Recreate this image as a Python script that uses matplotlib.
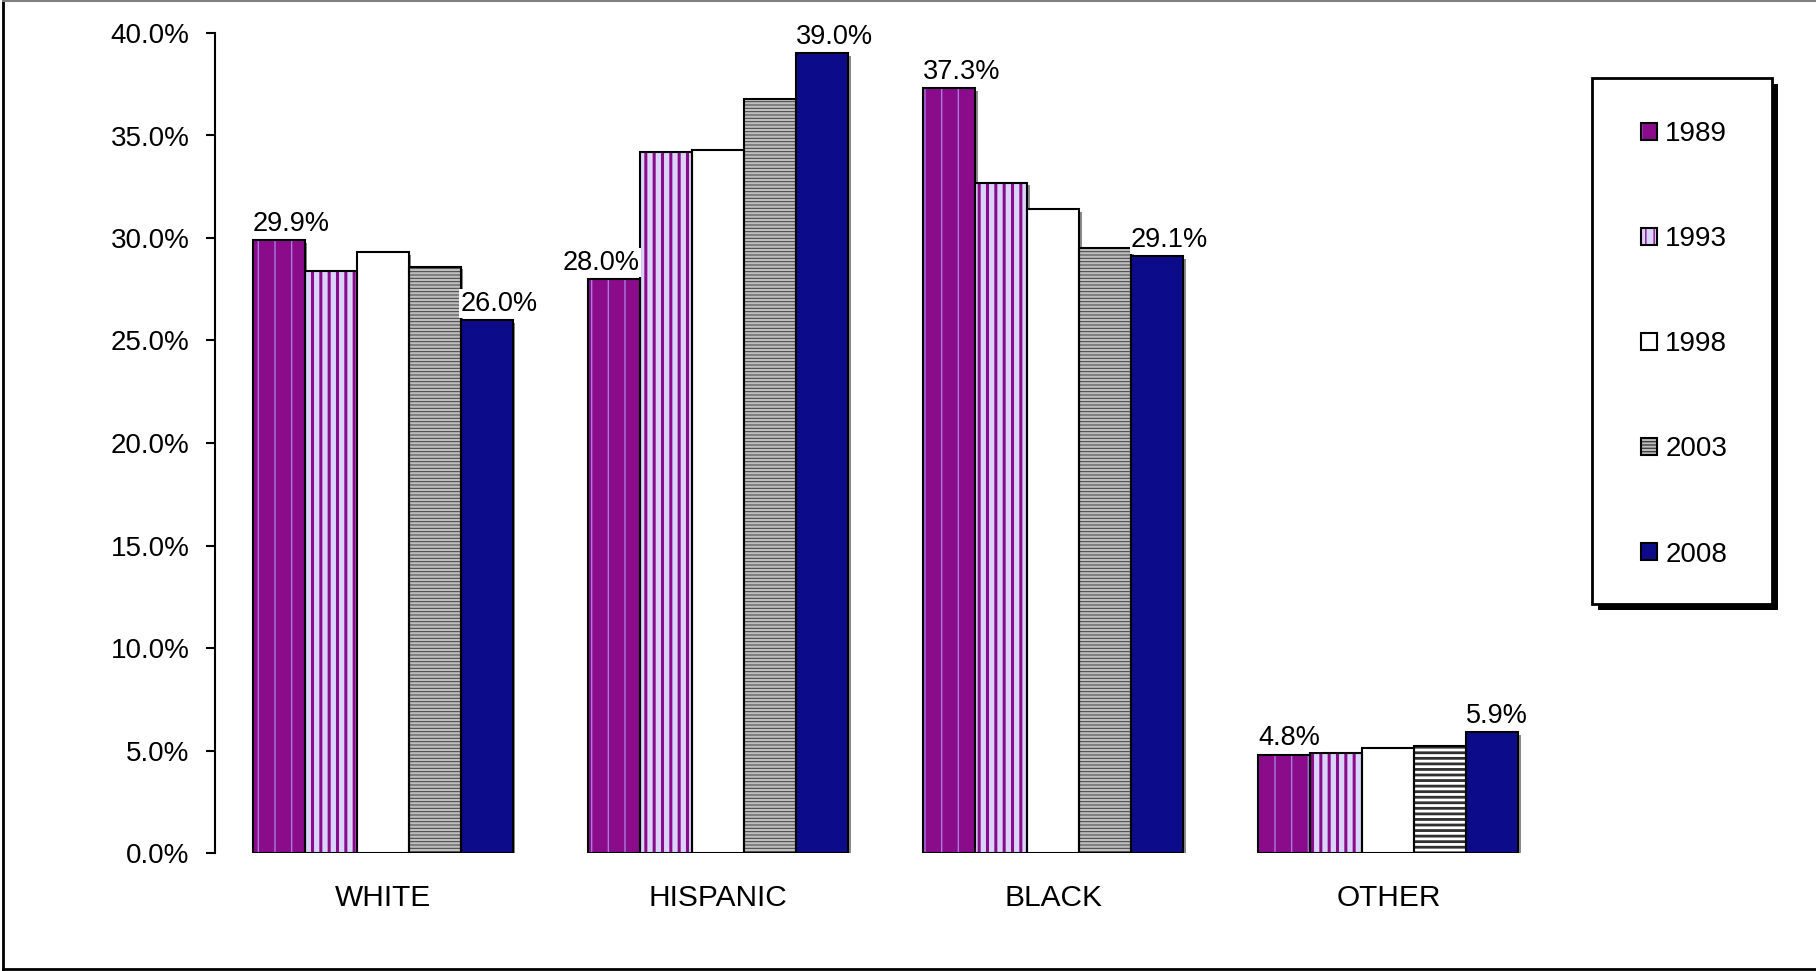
import numpy as np
import matplotlib
matplotlib.use('Agg')
import matplotlib.pyplot as plt
import matplotlib.patheffects as pe
from matplotlib.patches import Rectangle, Patch
from matplotlib.lines import Line2D
from matplotlib.ticker import FuncFormatter, MultipleLocator

plt.rcParams['font.family'] = ['Liberation Sans', 'DejaVu Sans']

# 数据（百分比）
categories = ['WHITE', 'HISPANIC', 'BLACK', 'OTHER']
years = ['1989', '1993', '1998', '2003', '2008']
v1989 = [29.9, 28.0, 37.3, 4.8]
v1993 = [28.4, 34.2, 32.7, 4.9]
v1998 = [29.3, 34.3, 31.4, 5.1]
v2003 = [28.6, 36.8, 29.5, 5.2]
v2008 = [26.0, 39.0, 29.1, 5.9]
series = [v1989, v1993, v1998, v2003, v2008]
labelled = ['1989', '2008']

# 每个系列的填充样式
styles = {
    '1989': dict(face='#8B0C8B', hatch='|', hcolor='#A87CE0', hlw=1.0),
    '1993': dict(face='#DAD4FA', hatch='||', hcolor='#8B0C8B', hlw=2.2),
    '1998': dict(face='white', hatch=None, hcolor='white', hlw=1.0),
    '2003': dict(face='#BEBEBE', hatch='-----', hcolor='#404040', hlw=0.7),
    '2008': dict(face='#0C0C8A', hatch=None, hcolor='#0C0C8A', hlw=1.0),
}
# OTHER 组的 2003 条纹更粗
other_2003 = dict(face='white', hatch='---', hcolor='#303030', hlw=2.0)
# 标签默认左对齐于柱子左边，个别右对齐
label_right = [('1989', 'HISPANIC')]


def set_hlw(p, lw):
    if hasattr(p, 'set_hatch_linewidth'):
        p.set_hatch_linewidth(lw)


fig = plt.figure(figsize=(18.16, 9.71), dpi=100)
ax = fig.add_axes([215 / 1816, 1 - 853 / 971, (1556 - 215) / 1816, (853 - 33) / 971])

x = np.arange(len(categories))
w = 0.155

for i, (yr, vals) in enumerate(zip(years, series)):
    st = styles[yr]
    pos = x + (i - 2) * w
    # 阴影
    ax.bar(pos, vals, w, color='#8A8A8A', linewidth=0, zorder=1.5,
           path_effects=[pe.SimplePatchShadow(offset=(2, -2), shadow_rgbFace='#8A8A8A', alpha=1)])
    # 填充 + 条纹
    fills = ax.bar(pos, vals, w, color=st['face'], edgecolor=st['hcolor'], linewidth=0,
                   hatch=st['hatch'], zorder=2)
    for j, p in enumerate(fills):
        if yr == '2003' and categories[j] == 'OTHER':
            p.set_facecolor(other_2003['face'])
            p.set_edgecolor(other_2003['hcolor'])
            p.set_hatch(other_2003['hatch'])
            set_hlw(p, other_2003['hlw'])
        else:
            set_hlw(p, st['hlw'])
    # 黑色边框
    ax.bar(pos, vals, w, fill=False, edgecolor='black', linewidth=1.5, zorder=3)

    if yr in labelled:
        for xp, v, cat in zip(pos, vals, categories):
            if (yr, cat) in label_right:
                xa, ha = xp + w / 2, 'right'
            else:
                xa, ha = xp - w / 2, 'left'
            ax.annotate(f'{v:.1f}%', (xa, v), xytext=(0, 2.5), textcoords='offset points',
                        ha=ha, va='bottom', fontsize=19.5, zorder=6,
                        bbox=dict(boxstyle='square,pad=0.05', facecolor='white', edgecolor='none'))

ax.set_xlim(-0.5, 3.5)
ax.set_ylim(0, 40)
ax.yaxis.set_major_locator(MultipleLocator(5))
ax.yaxis.set_major_formatter(FuncFormatter(lambda v, _: f'{v:.1f}%'))
ax.set_xticks(x)
ax.set_xticklabels(categories)

for s in ['top', 'right', 'bottom']:
    ax.spines[s].set_visible(False)
ax.spines['left'].set_linewidth(1.5)
ax.tick_params(axis='y', direction='out', length=6.5, width=1.5, pad=12, labelsize=20)
ax.tick_params(axis='x', length=0, pad=22, labelsize=21.5)

# 图例
handles = []
for yr in years:
    st = styles[yr]
    h1 = Patch(facecolor=st['face'], edgecolor=st['hcolor'], linewidth=0, hatch=st['hatch'])
    set_hlw(h1, st['hlw'])
    h2 = Patch(fill=False, edgecolor='black', linewidth=1.5)
    handles.append((h1, h2))

fig.legend(handles, years, loc='upper left', bbox_to_anchor=(1641 / 1816, 1 - 121 / 971),
           frameon=False, fontsize=20, handlelength=0.57, handleheight=0.57,
           handletextpad=0.3, labelspacing=2.85, borderpad=0, borderaxespad=0)

# 图例外框及阴影
fig.add_artist(Rectangle((1598 / 1816, 1 - 610 / 971), 180 / 1816, 526 / 971,
                         facecolor='black', edgecolor='none', transform=fig.transFigure, zorder=1))
fig.add_artist(Rectangle((1592 / 1816, 1 - 604 / 971), 180 / 1816, 526 / 971,
                         facecolor='white', edgecolor='black', linewidth=2,
                         transform=fig.transFigure, zorder=1.1))

# 外边框
fig.add_artist(Line2D([0.0015, 0.0015], [0.002, 0.999], color='black', linewidth=2, transform=fig.transFigure))
fig.add_artist(Line2D([0.0015, 1.0], [0.002, 0.002], color='black', linewidth=2, transform=fig.transFigure))
fig.add_artist(Line2D([0.0015, 1.0], [0.999, 0.999], color='#808080', linewidth=1.5, transform=fig.transFigure))

fig.savefig('out.png', dpi=100)
